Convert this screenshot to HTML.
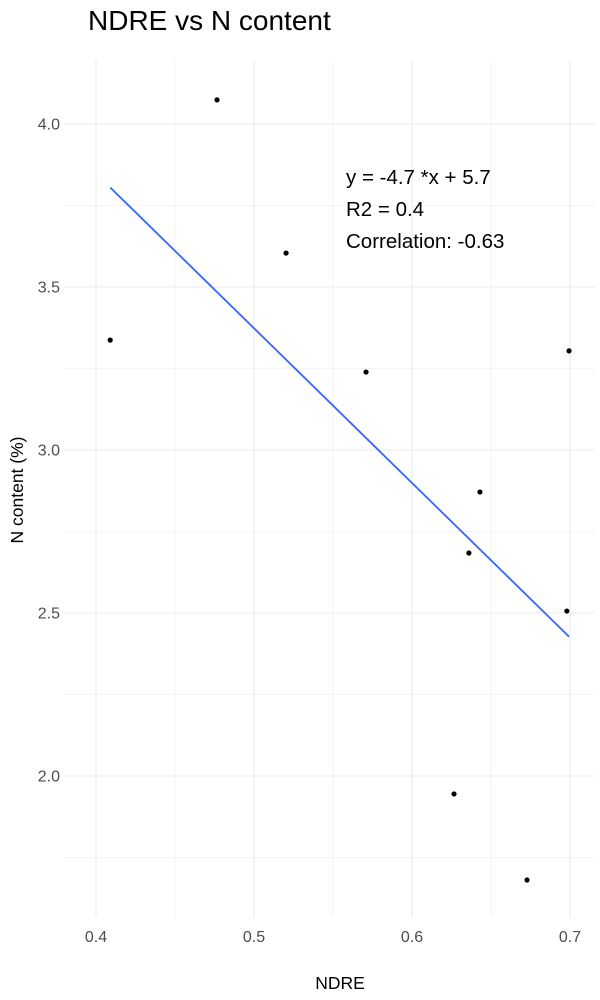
<!DOCTYPE html>
<html><head><meta charset="utf-8"><style>
body{margin:0;background:#fff;}
svg{display:block;font-family:"Liberation Sans",sans-serif;}
</style></head><body>
<svg id="chart" width="600" height="1000">
<text x="88" y="30" font-size="28" fill="#000">NDRE vs N content</text>
<g id="grid"></g><g id="ticks"></g><g id="marks"></g>
<g font-size="20.5" fill="#000">
<text x="346" y="184">y = -4.7 *x + 5.7</text>
<text x="346" y="216">R2 = 0.4</text>
<text x="346" y="248">Correlation: -0.63</text>
</g>
<text x="340" y="989" font-size="17.5" text-anchor="middle" fill="#000">NDRE</text>
<text transform="translate(23,490) rotate(-90)" font-size="17.5" text-anchor="middle" fill="#000">N content (%)</text>
</svg>
<script>
const ndre=[0.409,0.4766,0.5203,0.5709,0.6994,0.643,0.636,0.698,0.6266,0.6728];
const nContent=[3.337,4.074,3.604,3.239,3.304,2.871,2.684,2.506,1.945,1.681];
const xTicks=[0.4,0.5,0.6,0.7];
const yTicks=[2.0,2.5,3.0,3.5,4.0];
const xMinor=[0.45,0.55,0.65];
const yMinor=[1.75,2.25,2.75,3.25,3.75];
const fitSlope=[-4.745];
const fitIntercept=[5.746];
const X=v=>96+(v-0.4)*1580;
const Y=v=>124+(4.0-v)*326;
const NS="http://www.w3.org/2000/svg";
function mk(t,a,p){const e=document.createElementNS(NS,t);for(const k in a)e.setAttribute(k,a[k]);p.appendChild(e);return e;}
const grid=document.getElementById('grid'),ticks=document.getElementById('ticks'),marks=document.getElementById('marks');
const L=64,R=595,T=60,B=918;
xMinor.forEach(v=>{const e=mk('line',{x1:X(v),x2:X(v),y1:T,y2:B,stroke:'#f0f0f0','stroke-width':0.8},grid);

});
yMinor.forEach(v=>{const e=mk('line',{x1:L,x2:R,y1:Y(v),y2:Y(v),stroke:'#f0f0f0','stroke-width':0.8},grid);

});
xTicks.forEach(v=>{const e=mk('line',{x1:X(v),x2:X(v),y1:T,y2:B,stroke:'#ebebeb','stroke-width':1.1},grid);


const t=mk('text',{x:X(v),y:942,'font-size':16,'text-anchor':'middle',fill:'#4d4d4d'},ticks);t.textContent=v.toFixed(1);

});
yTicks.forEach(v=>{const e=mk('line',{x1:L,x2:R,y1:Y(v),y2:Y(v),stroke:'#ebebeb','stroke-width':1.1},grid);


const t=mk('text',{x:60,y:Y(v)+5.5,'font-size':16,'text-anchor':'end',fill:'#4d4d4d'},ticks);t.textContent=v.toFixed(1);

});
const xmin=Math.min(...ndre),xmax=Math.max(...ndre);
const ln=mk('line',{x1:X(xmin),y1:Y(fitIntercept[0]+fitSlope[0]*xmin),x2:X(xmax),y2:Y(fitIntercept[0]+fitSlope[0]*xmax),stroke:'#3366ff','stroke-width':1.8},marks);


ndre.forEach((v,i)=>{const c=mk('circle',{cx:X(v),cy:Y(nContent[i]),r:2.6,fill:'#000'},marks);

});
</script>
</body></html>
